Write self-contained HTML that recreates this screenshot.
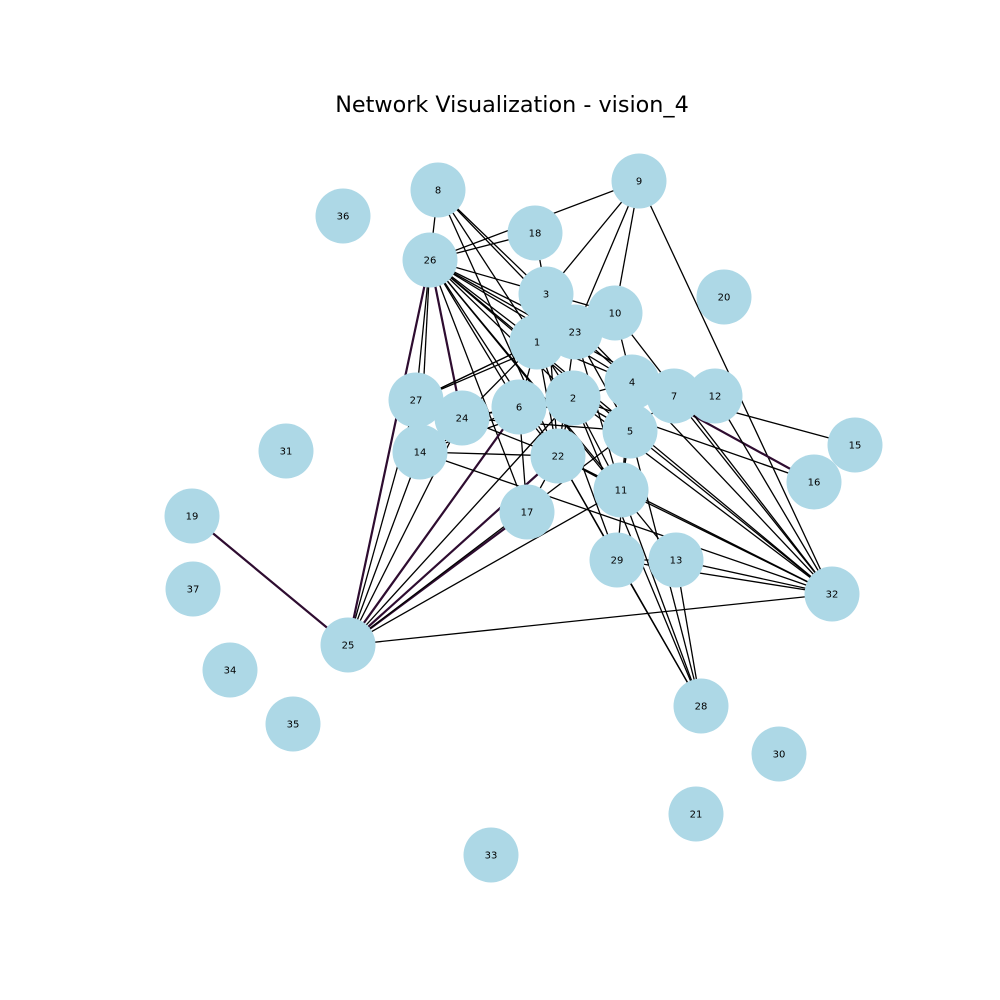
<!DOCTYPE html>
<html><head><meta charset="utf-8"><style>
html,body{margin:0;padding:0;background:#fff;}
svg{display:block;font-family:"DejaVu Sans","Liberation Sans",sans-serif;}
</style></head><body>
<svg id="chart" width="1000" height="1000" viewBox="0 0 1000 1000">
<text x="512" y="112" text-anchor="middle" font-size="22.3" fill="#000">Network Visualization - vision_4</text>
<g id="edges"></g>
<g id="nodes"></g>
</svg>
<script>
const nodeIds=[1,2,3,4,5,6,7,8,9,10,11,12,13,14,15,16,17,18,19,20,21,22,23,24,25,26,27,28,29,30,31,32,33,34,35,36,37];
const nodeX=[537,573,546,632,630,519,674,438,639,615,621,715,676,420,855,814,527,535,192,724,696,558,575,462,348,430,416,701,617,779,286,832,491,230,293,343,193];
const nodeY=[342,398,294,382,431,407,396,190,181,313,490,396,560,452,445,482,512,233,516,297,814,456,332,418,645,260,400,706,560,754,451,594,855,670,724,216,589];
const edgeSource=[9,9,9,9,9,8,8,8,8,8,18,18,26,26,26,26,26,26,26,26,26,26,26,26,26,26,26,26,26,19,25,25,25,25,25,25,25,25,25,25,16,16,15,32,32,32,32,32,32,32,32,32,32,32,28,28,28,28,28,28,1,1,1,1,1,1,1,2,2,2,2,2,2,3,3,3,3,23,23,23,23,4,4,4,4,6,6,6,6,24,24,24,27,27,14,14,22,22,17,5,10,12,13,7];
const edgeTarget=[26,3,10,23,32,3,23,1,22,26,3,26,1,2,23,10,4,5,22,6,25,27,14,24,32,7,13,11,17,25,17,22,6,2,5,11,32,14,27,24,4,2,7,4,2,5,11,13,29,22,12,7,10,14,29,13,11,5,2,22,2,6,4,22,27,24,29,4,5,6,22,11,24,1,23,4,22,4,5,22,11,5,7,11,29,22,24,14,17,22,2,5,1,23,22,2,11,29,22,11,4,4,29,5];
const purple=[[26,25],[26,24],[19,25],[25,17],[16,4],[25,22],[25,6]];
const NS="http://www.w3.org/2000/svg";
const eg=document.getElementById('edges'),ng=document.getElementById('nodes');
function pos(id){const i=nodeIds.indexOf(id);return [nodeX[i],nodeY[i]];}
function isPurple(a,b){return purple.some(p=>(p[0]===a&&p[1]===b)||(p[0]===b&&p[1]===a));}
for(let k=0;k<edgeSource.length;k++){
  const a=pos(edgeSource[k]),b=pos(edgeTarget[k]);
  const l=document.createElementNS(NS,'line');
  l.setAttribute('x1',a[0]);l.setAttribute('y1',a[1]);l.setAttribute('x2',b[0]);l.setAttribute('y2',b[1]);
  const p=isPurple(edgeSource[k],edgeTarget[k]);
  l.setAttribute('stroke',p?'#2e0c30':'#000');
  l.setAttribute('stroke-width',p?2.2:1.3);
  
  
  eg.appendChild(l);
}
for(let i=0;i<nodeIds.length;i++){
  const g=document.createElementNS(NS,'g');
  
  
  const c=document.createElementNS(NS,'circle');
  c.setAttribute('cx',nodeX[i]);c.setAttribute('cy',nodeY[i]);c.setAttribute('r',27.5);
  c.setAttribute('fill','#add8e6');
  const t=document.createElementNS(NS,'text');
  t.setAttribute('x',nodeX[i]);t.setAttribute('y',nodeY[i]+3.5);
  t.setAttribute('text-anchor','middle');t.setAttribute('font-size','10');
  t.textContent=nodeIds[i];
  g.appendChild(c);g.appendChild(t);ng.appendChild(g);
}
</script>
</body></html>
